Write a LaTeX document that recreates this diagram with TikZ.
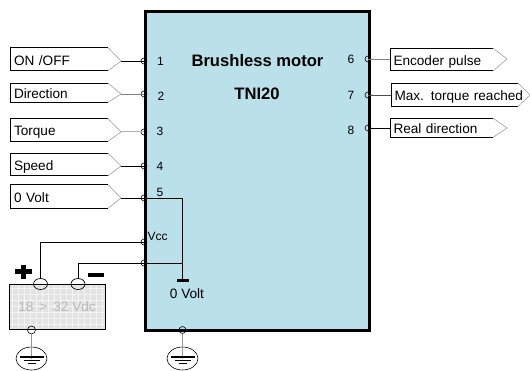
\documentclass[tikz,border=0pt]{standalone}
\usepackage{fontspec}
\setmainfont{Liberation Sans}
\newcommand{\sigbox}[8]{% name, x1, x2, tip, top, bot, tipy, text
  \pgfmathsetmacro{\bw}{#3-#2}\pgfmathsetmacro{\bh}{#6-#5}\pgfmathsetmacro{\tw}{#3-#2-6}
  \node[boxtext,text width=\tw pt,minimum height=\bh pt] (#1) at ({(#2+#3)/2},{(#5+#6)/2}) {\strut\raisebox{-3pt}[0pt][0pt]{\rlap{#8}}};
  \coordinate (#1tip) at (#4,#7);
  \draw[edge] (#1.north east) -- (#1.north west) -- (#1.south west) -- (#1.south east);
}
\tikzset{
  edge/.style={line width=0.8pt,black},
  tipline/.style={line width=0.6pt,gray!75},
  boxtext/.style={inner xsep=3pt,inner ysep=0pt,align=left,font=\fontsize{13.6}{15}\selectfont,anchor=center},
  pin/.style={circle,draw=black,line width=0.6pt,minimum size=6pt,inner sep=0pt},
  oval/.style={ellipse,draw=black,line width=0.7pt,minimum width=14pt,minimum height=11pt,inner sep=0pt},
  num/.style={font=\fontsize{12}{14}\selectfont,inner sep=0pt},
  title/.style={font=\fontsize{16.6}{19}\bfseries\selectfont,inner sep=0pt},
  gnd/.style={ellipse,draw=black,line width=0.6pt,minimum width=31pt,minimum height=23pt,inner sep=0pt},
}
\usetikzlibrary{shapes.geometric}
\begin{document}
\begin{tikzpicture}[x=1pt,y=-1pt]
\useasboundingbox (0,0) rectangle (530,371);
\fill[white] (0,0) rectangle (530,371);
% motor
\draw[line width=3pt,fill={rgb,255:red,186;green,224;blue,234}] (145,11.5) rectangle (369,330);
\node[title] (ttl) at (257.5,61) {Brushless motor};
\node[title] (ttn) at (257,94) {TNI20};
% left pins
\foreach \n/\y in {a/61,b/94,c/132,d/166,e/198,v/242,z/263}{\node[pin] (p\n) at (144,\y) {};}
\foreach \n/\y in {f/59,g/95,h/128}{\node[pin] (p\n) at (368,\y) {};}
\node[pin,minimum size=7pt] (pm) at (182.5,330) {};
% signal boxes
\sigbox{a}{11}{108}{121}{48}{70.5}{61}{ON /OFF}
\sigbox{b}{11}{108}{121}{83.5}{102}{94}{Direction}
\sigbox{c}{11}{108}{121}{119}{141}{132}{Torque}
\sigbox{d}{11}{108}{121}{153.5}{175.5}{166}{Speed}
\sigbox{e}{11}{108}{121}{185}{208}{198}{0 Volt}
\sigbox{f}{390.5}{493}{507}{48.5}{70.5}{59}{Encoder pulse}
\sigbox{g}{391.5}{518}{530}{83.5}{106}{95}{Max. torque reached}
\sigbox{h}{390.5}{493}{507}{118.5}{137}{128}{Real direction}
\foreach \n in {a,b,c,d,e,f,g,h}{
  \draw[tipline] (\n.north east) -- (\n tip) -- (\n.south east);
}
\draw[edge] (atip) -- (pa.center);
\draw[line width=0.8pt,gray] (btip) -- (pb.center);
\draw[line width=1pt,gray!60] (ctip) -- (pc.center);
\draw[edge] (dtip) -- (pd.center);
\draw[edge] (etip) -- (pe.center);
\draw[line width=0.8pt,gray] (pf.center) -- (f.west |- pf);
\draw[line width=0.8pt,black!70] (pg.center) -- (g.west |- pg);
\draw[edge] (ph.center) -- (h.west |- ph);
% numbers
\node[num] (n1) at (160.5,61) {1};
\node[num] (n2) at (161,96.5) {2};
\node[num] (n3) at (160,131.5) {3};
\node[num] (n4) at (160,166) {4};
\node[num] (n5) at (160,192) {5};
\node[num] (n6) at (351,59) {6};
\node[num] (n7) at (351,95.5) {7};
\node[num] (n8) at (351,130) {8};
\node[num] (nv) at (157.5,236) {Vcc};
% battery
\draw[line width=0.9pt,fill=gray!22] (9,284) rectangle coordinate (batc) (105,329);
\foreach \x in {12,18,...,102}{\draw[white,line width=0.5pt,opacity=.6] (\x,285) -- (\x,328);}
\foreach \y in {288,294,...,326}{\draw[white,line width=0.5pt,opacity=.6] (10,\y) -- (104,\y);}
\node[font=\fontsize{13.6}{15}\selectfont,text=gray!55,inner sep=0pt] (batt) at (57,306.5) {18 \,>\, 32 Vdc};
\node[oval] (op) at (40.5,284) {};
\node[oval] (om) at (78,284) {};
\node[pin,minimum size=8pt] (pb0) at (31.5,330) {};
% wiring
\coordinate (bar) at (182.5,281);
\draw[edge] (pe.center) -| (bar);
\draw[edge] (pz.center) -- (pz -| bar);
\draw[edge] (pv.center) -| (op.north);
\draw[edge] (pz.center) -| (om.north);
\draw[line width=3pt] (177,281) -- (189,281);
\node[font=\fontsize{13.6}{15}\selectfont,inner sep=0pt] (zv) at (187,293.5) {0 Volt};
% plus / minus
\draw[line width=5pt] (15,272) -- (32,272) (23.5,265) -- (23.5,279);
\draw[line width=3.2pt] (88,275) -- (104,275);
% grounds
\node[gnd] (g1) at (31.5,358.5) {};
\node[gnd] (g2) at (182.5,358.5) {};
\draw[line width=0.5pt,gray!80] (pb0) -- (g1.center);
\draw[line width=0.5pt,gray!80] (pm) -- (g2.center);
\foreach \c in {31.5,182.5}{
  \draw[line width=1.3pt] (\c-12,357) -- (\c+12,357);
  \draw[line width=1pt] (\c-8,360.5) -- (\c+8,360.5);
  \draw[line width=1pt] (\c-4,363.5) -- (\c+4,363.5);
}
\end{tikzpicture}
\end{document}
